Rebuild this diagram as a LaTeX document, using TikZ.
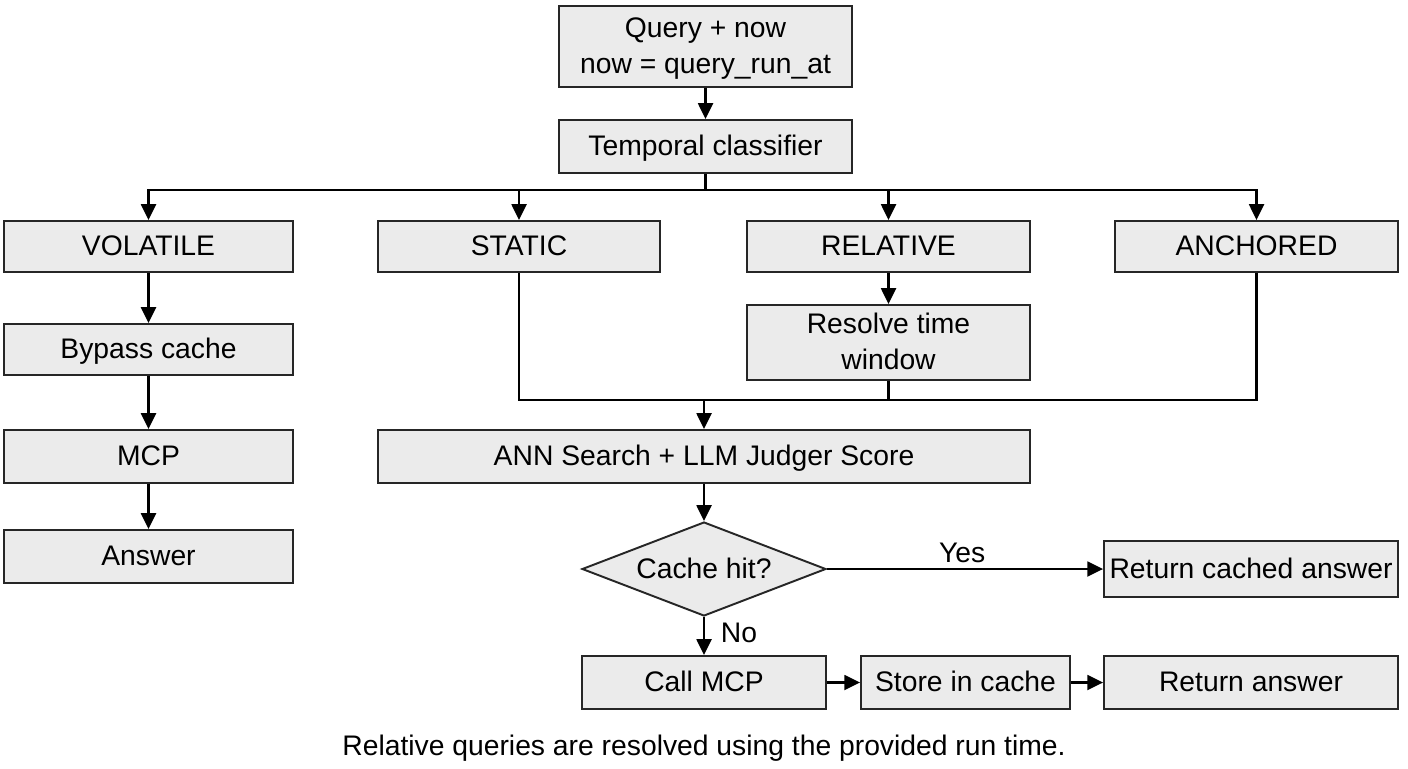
\documentclass[tikz,border=0pt]{standalone}
\usepackage{fontspec}
\setmainfont{Liberation Sans}
\usetikzlibrary{shapes.geometric,arrows.meta}
\begin{document}
\begin{tikzpicture}[x=0.02cm,y=-0.02cm,
  box/.style={draw=black!85,line width=1.1pt,fill=black!8,inner sep=2pt,align=center,text depth=1pt,font=\fontsize{16.1}{20.5}\selectfont},
  dec/.style={draw=black!85,line width=1.1pt,fill=black!8,shape=diamond,inner sep=0pt,aspect=2.6,text depth=1pt,font=\fontsize{16.1}{20.5}\selectfont},
  conn/.style={line width=1.2pt,draw=black},
  arr/.style={conn,-{Triangle[length=9pt,width=8.5pt]}},
  lbl/.style={font=\fontsize{16.1}{20.5}\selectfont}]
\useasboundingbox (0,0) rectangle (1408,768);
\node[box,minimum width=5.86cm,minimum height=1.62cm] (q) at (705.5,46.5) {Query + now\\now = query\_run\_at};
\node[box,minimum width=5.86cm,minimum height=1.06cm] (tc) at (705.5,146.5) {Temporal classifier};
\node[box,minimum width=5.78cm,minimum height=1.02cm] (vol) at (148.5,246.5) {VOLATILE};
\node[box,minimum width=5.64cm,minimum height=1.02cm] (sta) at (519,246.5) {STATIC};
\node[box,minimum width=5.66cm,minimum height=1.02cm] (rel) at (888.5,246.5) {RELATIVE};
\node[box,minimum width=5.66cm,minimum height=1.02cm] (anc) at (1256.5,246.5) {ANCHORED};
\node[box,minimum width=5.78cm,minimum height=1.02cm] (byp) at (148.5,349.5) {Bypass cache};
\node[box,minimum width=5.78cm,minimum height=1.06cm] (mcp) at (148.5,456.5) {MCP};
\node[box,minimum width=5.78cm,minimum height=1.06cm] (ans) at (148.5,556.5) {Answer};
\node[box,minimum width=5.66cm,minimum height=1.5cm] (res) at (888.5,342.5) {Resolve time\\window};
\node[box,minimum width=13.04cm,minimum height=1.06cm] (ann) at (704,456.5) {ANN Search + LLM Judger Score};
\node[dec,minimum width=4.88cm,minimum height=1.88cm] (hit) at (704,569) {Cache hit?};
\node[box,minimum width=5.88cm,minimum height=1.12cm] (rca) at (1251,569) {Return cached answer};
\node[box,minimum width=4.88cm,minimum height=1.06cm] (call) at (704,682.5) {Call MCP};
\node[box,minimum width=4.18cm,minimum height=1.06cm] (sto) at (965.5,682.5) {Store in cache};
\node[box,minimum width=5.88cm,minimum height=1.06cm] (ra) at (1251,682.5) {Return answer};
\node[lbl] (cap) at (704,748) {Relative queries are resolved using the provided run time.};
\coordinate (split) at (705.5,190);
\coordinate (merge) at (704,400);
\draw[arr] (q) -- (tc);
\draw[conn] (tc) -- (split);
\draw[arr] (split) -| (vol);
\draw[arr] (split) -| (sta);
\draw[arr] (split) -| (rel);
\draw[arr] (split) -| (anc);
\draw[arr] (vol) -- (byp);
\draw[arr] (byp) -- (mcp);
\draw[arr] (mcp) -- (ans);
\draw[arr] (rel) -- (res);
\draw[conn] (sta.south) |- (merge);
\draw[conn] (anc.south) |- (merge);
\draw[conn] (res.south) |- (merge);
\draw[arr] (merge) -- (ann);
\draw[arr] (ann) -- (hit);
\draw[arr] (hit.east) -- node[lbl,above,pos=0.49,inner sep=3pt] {Yes} (rca.west);
\draw[arr] (hit.south) -- node[lbl,right,pos=0.42,inner sep=1pt,xshift=8pt] {No} (call.north);
\draw[arr] (call) -- (sto);
\draw[arr] (sto) -- (ra);
\end{tikzpicture}
\end{document}
